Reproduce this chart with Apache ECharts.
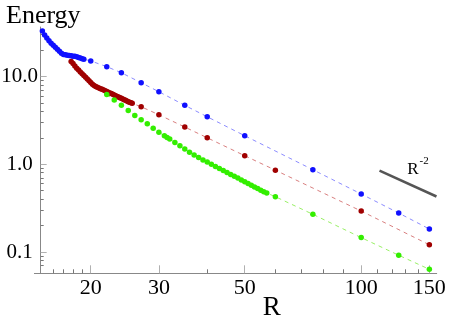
<!DOCTYPE html>
<html>
<head>
<meta charset="utf-8">
<script src="https://cdn.jsdelivr.net/npm/echarts@6/dist/echarts.min.js"></script>
<style>
html,body{margin:0;padding:0;background:#fff;}
#chart{width:450px;height:329px;}
</style>
</head>
<body>
<div id="chart"></div>
<script>
// ---- data ----
var blueR = [15.0,15.2,15.4,15.6,15.8,16.0,16.2,16.4,16.6,16.8,17.0,17.2,17.4,17.6,17.8,18.0,18.2,18.4,18.6,18.8,19.0,19.2,
             20,22,24,27,30,35,40,50,75,100,125,150];
var blueE = [32.8,29.5,27.3,25.4,23.9,22.6,21.5,20.4,19.3,18.4,17.8,17.6,17.45,17.3,17.15,17.0,16.9,16.7,16.45,16.2,15.9,15.65,
             15.0,12.9,11.0,8.47,6.69,4.68,3.47,2.11,0.866,0.458,0.278,0.183];

var redR = [17.8,18.0,18.2,18.4,18.6,18.8,19.0,19.2,19.4,19.6,19.8,20.0,20.2,20.4,20.6,20.8,21.0,21.2,21.4,21.6,21.8,
            22.0,22.2,22.4,22.6,22.8,23.0,23.2,23.4,23.6,23.8,24.0,24.2,24.4,24.6,24.8,25.0,25.2,25.4,25.6,
            27,30,35,40,50,60,100,150];
var redE = [14.8,14.0,13.1,12.35,11.8,11.25,10.75,10.25,9.8,9.35,8.9,8.5,8.15,7.85,7.65,7.5,7.38,7.25,7.12,6.98,6.85,
            6.73,6.61,6.49,6.37,6.25,6.14,6.03,5.92,5.82,5.72,5.62,5.52,5.43,5.34,5.25,5.16,5.08,5.0,4.93,
            4.51,3.66,2.65,2.00,1.25,0.855,0.293,0.121];

var greenR = [22,23,24,25,26,27,28,29,30,31,31.5,32,33,34,35,36,37,38,39,40,41,42,43,44,45,46,47,48,49,50,
              51,52,53,54,55,56,57,60,75,100,125,150];
var greenE = [6.2,5.38,4.70,4.10,3.58,3.20,2.88,2.57,2.31,2.11,2.02,1.94,1.77,1.62,1.49,1.37,1.27,1.19,1.12,1.06,
              1.00,0.945,0.895,0.849,0.806,0.766,0.729,0.695,0.662,0.632,0.604,0.577,0.552,0.529,0.507,0.486,0.470,
              0.427,0.269,0.146,0.092,0.0636];

var refR = [111.5, 156.5];
var refE = [0.845, 0.429];

var xMajorTicks = [20,30,50,100,150];
var xMinorTicks = [16,17,18,19,40,60,70,80,90,110,120,130,140];
var yMajorTicks = [0.1,1,10];
var yMinorTicks = [0.07,0.08,0.09,0.2,0.3,0.4,0.5,0.6,0.7,0.8,0.9,2,3,4,5,6,7,8,9,20,30];

// ---- helpers ----
function zip(a,b){ return a.map(function(v,i){ return [v,b[i]]; }); }

var X_MIN = 14.85, X_MAX = 156.7, Y_MIN = 0.0573, Y_MAX = 36.5;
var FONT = "'Liberation Serif','DejaVu Serif',serif";

function dotSeries(name, r, e, dot, dash){
  return {
    name: name, type: 'line', xAxisIndex: 0, yAxisIndex: 0,
    data: zip(r,e),
    symbol: 'circle', symbolSize: 5.5, showSymbol: true,
    itemStyle: { color: dot, borderWidth: 0 },
    lineStyle: { color: dash, width: 1, type: [4,4] },
    emphasis: { disabled: true },
    silent: true
  };
}

var chart = echarts.init(document.getElementById('chart'), null, {renderer:'canvas'});
chart.setOption({
  animation: false,
  backgroundColor: '#fff',
  grid: { left: 40.7, top: 27, right: 13.3, bottom: 55.7, containLabel: false, outerBoundsMode: 'none' },
  xAxis: [
    { type: 'log', min: X_MIN, max: X_MAX, logBase: 10,
      axisLine: { show: true, lineStyle: { color: '#888', width: 1 } },
      axisTick: { show: true, inside: true, length: 8, customValues: xMajorTicks, lineStyle: { color: '#b0b0b0', width: 1 } },
      axisLabel: { show: true, customValues: xMajorTicks, margin: 4, color: '#000', fontSize: 22, fontFamily: FONT,
                   formatter: function(v){ return String(Math.round(v)); } },
      splitLine: { show: false }, minorTick: { show: false } },
    { type: 'log', min: X_MIN, max: X_MAX, logBase: 10, gridIndex: 0, position: 'bottom',
      axisLine: { show: false },
      axisTick: { show: true, inside: true, length: 4, customValues: xMinorTicks, lineStyle: { color: '#777', width: 1 } },
      axisLabel: { show: false }, splitLine: { show: false } }
  ],
  yAxis: [
    { type: 'log', min: Y_MIN, max: Y_MAX, logBase: 10,
      axisLine: { show: true, lineStyle: { color: '#888', width: 1 } },
      axisTick: { show: true, inside: true, length: 6, customValues: yMajorTicks, lineStyle: { color: '#b0b0b0', width: 1 } },
      axisLabel: { show: true, customValues: yMajorTicks, margin: 21, align: 'center', color: '#000', fontSize: 21, fontFamily: FONT,
                   formatter: function(v){ return Number(v).toFixed(1); } },
      splitLine: { show: false } },
    { type: 'log', min: Y_MIN, max: Y_MAX, logBase: 10, gridIndex: 0, position: 'left',
      axisLine: { show: false },
      axisTick: { show: true, inside: true, length: 3, customValues: yMinorTicks, lineStyle: { color: '#777', width: 1 } },
      axisLabel: { show: false }, splitLine: { show: false } }
  ],
  series: [
    { name: 'R^-2', type: 'line', xAxisIndex: 0, yAxisIndex: 0, data: zip(refR, refE),
      symbol: 'none', lineStyle: { color: '#555', width: 2.5 }, silent: true, z: 1 },
    dotSeries('blue', blueR, blueE, '#1010ff', '#8c8cff'),
    dotSeries('red', redR, redE, '#a00000', '#d98080'),
    dotSeries('green', greenR, greenE, '#33ee00', '#99f066')
  ],
  graphic: [
    { type: 'text', left: 6, top: 3, style: { text: 'Energy', font: "26px " + FONT, fill: '#000' } },
    { type: 'text', x: 271.7, y: 307.5, style: { text: 'R', font: "27px " + FONT, fill: '#000', align: 'center', verticalAlign: 'middle' } },
    { type: 'text', x: 407.3, y: 169.5, style: { text: 'R', font: "17px " + FONT, fill: '#000', align: 'left', verticalAlign: 'middle' } },
    { type: 'text', x: 419.5, y: 161, style: { text: '-2', font: "11px " + FONT, fill: '#000', align: 'left', verticalAlign: 'middle' } },
    { type: 'line', shape: { x1: 34, y1: 273.5, x2: 41, y2: 273.5 }, style: { stroke: '#888', lineWidth: 1 } }
  ]
});
</script>
</body>
</html>
